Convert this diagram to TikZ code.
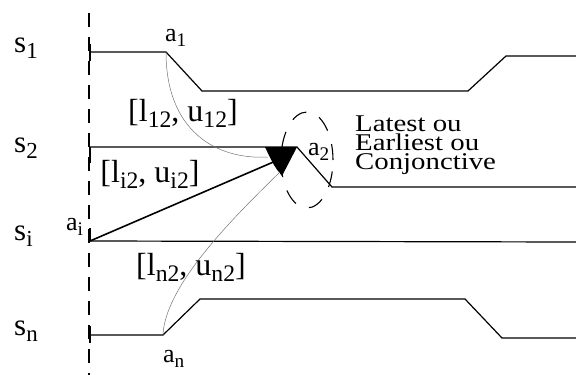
\documentclass[tikz,border=0pt]{standalone}
\usepackage{fontspec}
\setmainfont{Liberation Serif}
\usepackage{graphicx}
\newcommand\lsub[1]{\raisebox{-0.2em}{\scalebox{0.74}{#1}}}
\begin{document}
\begin{tikzpicture}[x=1pt,y=-1pt,
  sig/.style={line width=1.2pt},
  thinc/.style={line width=0.5pt, black!55},
  slab/.style={anchor=base west, inner sep=0pt, font=\fontsize{31}{31}\selectfont},
  alab/.style={anchor=base west, inner sep=0pt, font=\fontsize{26}{26}\selectfont},
  blab/.style={anchor=base, inner sep=0pt, font=\fontsize{32}{32}\selectfont},
  tlab/.style={anchor=base west, inner sep=0pt, font=\fontsize{24}{19}\selectfont}]
\useasboundingbox (0,0) rectangle (576,375);
% time origin
\draw[line width=1.1pt, dash pattern=on 14pt off 10pt] (89,13) -- (89,375);
% signals
\coordinate (s1o) at (90,52);
\coordinate (a1p) at (166,52);
\coordinate (s2o) at (90,147);
\coordinate (a2p) at (297,147);
\coordinate (sio) at (90,241);
\coordinate (sno) at (90,335);
\coordinate (anp) at (163,335);
\draw[sig] (s1o) -- (a1p) -- (202,91) -- (468,91) -- (506,56) -- (576,56);
\draw[sig] (s2o) -- (a2p) -- (332,187) -- (576,187);
\draw[sig] (sio) -- (576,242);
\draw[sig] (sno) -- (anp) -- (200,299) -- (465,299) -- (502,338) -- (576,338);
% ticks
\draw[sig] (90,44) -- (90,61);
\draw[sig] (90,147) -- (90,163);
\draw[sig] (90,228) -- (90,241);
\draw[sig] (90,326) -- (90,343);
% join triangle
\coordinate (tri) at (278,160);
\fill (265,147) -- (297,147) -- (282,176) .. controls (274,166) .. (265,147);
% constraints
\draw[line width=1.6pt] (sio) -- (tri);
\draw[thinc] (a1p) .. controls (166,130) and (215,160) .. (268,157);
\draw[thinc] (anp) .. controls (165,290) and (220,230) .. (280,172);
% ellipse
\draw[line width=1.1pt, dash pattern=on 16pt off 14pt] (307,160) ellipse [x radius=26pt, y radius=48pt];
% labels
\node[slab] (ls1) at (14,52) {s\lsub{1}};
\node[slab] (ls2) at (14,152) {s\lsub{2}};
\node[slab] (lsi) at (14,240) {s\lsub{i}};
\node[slab] (lsn) at (14,335) {s\lsub{n}};
\node[alab] (la1) at (165,41) {a\lsub{1}};
\node[alab] (la2) at (308,155) {a\lsub{2}};
\node[alab] (lai) at (66,230) {a\lsub{i}};
\node[alab] (lan) at (163,362) {a\lsub{n}};
\node[blab] (b12) at (183,121) {[l\lsub{12}, u\lsub{12}]};
\node[blab] (bi2) at (150,182) {[l\lsub{i2}, u\lsub{i2}]};
\node[blab] (bn2) at (191,275) {[l\lsub{n2}, u\lsub{n2}]};
\node[tlab] (txt) at (355,131.7) {\scalebox{1.2}[1]{\vtop{\baselineskip=19pt\lineskiplimit=-30pt\hbox{Latest ou}\hbox{Earliest ou}\hbox{Conjonctive}}}};
\end{tikzpicture}
\end{document}
